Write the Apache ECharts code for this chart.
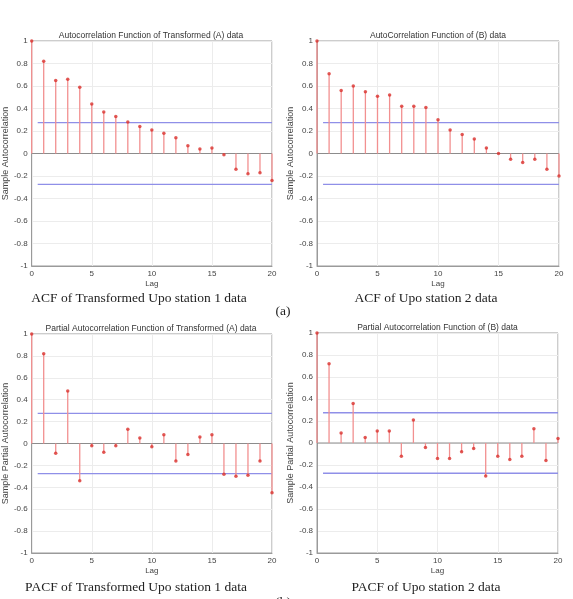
<!DOCTYPE html>
<html>
<head>
<meta charset="utf-8">
<script src="https://cdn.jsdelivr.net/npm/echarts@6/dist/echarts.min.js"></script>
<style>
  html, body { margin: 0; padding: 0; background: #fff; }
  #chart { width: 573px; height: 599px; }
</style>
</head>
<body>
<div id="chart"></div>
<script>
// lags 0..20
var lags = [0, 1, 2, 3, 4, 5, 6, 7, 8, 9, 10, 11, 12, 13, 14, 15, 16, 17, 18, 19, 20];

var acfA = [1, 0.82, 0.65, 0.66, 0.59, 0.44, 0.37, 0.33, 0.28, 0.24, 0.21, 0.18, 0.14, 0.07, 0.04, 0.05, -0.01, -0.14, -0.18, -0.17, -0.24];
var acfB = [1, 0.71, 0.56, 0.60, 0.55, 0.51, 0.52, 0.42, 0.42, 0.41, 0.30, 0.21, 0.17, 0.13, 0.05, 0.00, -0.05, -0.08, -0.05, -0.14, -0.20];
var pacfA = [1, 0.82, -0.09, 0.48, -0.34, -0.02, -0.08, -0.02, 0.13, 0.05, -0.03, 0.08, -0.16, -0.10, 0.06, 0.08, -0.28, -0.30, -0.29, -0.16, -0.45];
var pacfB = [1, 0.72, 0.09, 0.36, 0.05, 0.11, 0.11, -0.12, 0.21, -0.04, -0.14, -0.14, -0.08, -0.05, -0.30, -0.12, -0.15, -0.12, 0.13, -0.16, 0.04];

var bound = 0.275; // confidence bounds
var boundFrom = 0.5;

var panelTitles = [
  "Autocorrelation Function of Transformed (A) data",
  "AutoCorrelation Function of (B) data",
  "Partial Autocorrelation Function of Transformed (A) data",
  "Partial Autocorrelation Function of (B) data"
];
var yNames = ["Sample Autocorrelation", "Sample Autocorrelation", "Sample Partial Autocorrelation", "Sample Partial Autocorrelation"];
var captions = [
  "ACF of Transformed Upo station 1 data",
  "ACF of Upo station 2 data",
  "PACF of Transformed Upo station 1 data",
  "PACF of Upo station 2 data"
];
var panelData = [acfA, acfB, pacfA, pacfB];

// plot boxes [left, top, width, height]
var boxes = [
  [30, 41, 242, 225],
  [317, 41, 242, 225],
  [30, 334, 242, 219],
  [317, 333, 241, 220]
];

var sans = "'Liberation Sans', Arial, sans-serif";
var serif = "'Liberation Serif', 'DejaVu Serif', serif";

var chart = echarts.init(document.getElementById("chart"));

var grids = [], xAxes = [], yAxes = [], series = [], graphics = [];

boxes.forEach(function(b, i) {
  grids.push({
    left: b[0], top: b[1], width: b[2], height: b[3],
    show: true, borderColor: "#9a9a9a", borderWidth: 1, backgroundColor: "#fff"
  });
  xAxes.push({
    gridIndex: i, type: "value", min: 0, max: 20, interval: 5,
    name: "Lag", nameLocation: "middle", nameGap: 14,
    nameTextStyle: { fontSize: 8, color: "#444", fontFamily: sans },
    axisLine: { onZero: false, lineStyle: { color: "#9a9a9a" } },
    axisTick: { show: false },
    axisLabel: { fontSize: 8, color: "#444", margin: 4, fontFamily: sans },
    splitLine: { show: true, lineStyle: { color: "#ececec" } }
  });
  yAxes.push({
    gridIndex: i, type: "value", min: -1, max: 1, interval: 0.2,
    name: yNames[i], nameLocation: "middle", nameGap: 19,
    nameTextStyle: { fontSize: 9, color: "#444", fontFamily: sans },
    axisLine: { lineStyle: { color: "#9a9a9a" } },
    axisTick: { show: false },
    axisLabel: { fontSize: 8, color: "#444", margin: 4, fontFamily: sans },
    splitLine: { show: true, lineStyle: { color: "#ececec" } }
  });

  var pts = lags.map(function(l, k) { return [l, panelData[i][k]]; });

  // baseline at 0
  series.push({
    type: "line", xAxisIndex: i, yAxisIndex: i, silent: true,
    data: [[0, 0], [20, 0]], symbol: "none",
    lineStyle: { color: "#8c8c8c", width: 1 }, z: 2
  });
  // confidence bounds
  series.push({
    type: "line", xAxisIndex: i, yAxisIndex: i, silent: true,
    data: [[boundFrom, bound], [20, bound]], symbol: "none",
    lineStyle: { color: "#8f8fe8", width: 1.3 }, z: 3
  });
  series.push({
    type: "line", xAxisIndex: i, yAxisIndex: i, silent: true,
    data: [[boundFrom, -bound], [20, -bound]], symbol: "none",
    lineStyle: { color: "#8f8fe8", width: 1.3 }, z: 3
  });
  // stems
  series.push({
    type: "custom", xAxisIndex: i, yAxisIndex: i, data: pts, z: 4,
    renderItem: function(params, api) {
      var p0 = api.coord([api.value(0), 0]);
      var p1 = api.coord([api.value(0), api.value(1)]);
      return {
        type: "line",
        shape: { x1: p0[0], y1: p0[1], x2: p1[0], y2: p1[1] },
        style: { stroke: "#f29090", lineWidth: 1.3 }
      };
    }
  });
  // markers
  series.push({
    type: "scatter", xAxisIndex: i, yAxisIndex: i, data: pts, z: 5,
    symbol: "circle", symbolSize: 3.5,
    itemStyle: { color: "#d9302c" }
  });

  graphics.push({
    type: "text", x: b[0] + b[2] / 2, y: b[1] - 5,
    style: { text: panelTitles[i], align: "center", verticalAlign: "middle", font: "8.5px " + sans, fill: "#333" }
  });
});

var capPos = [[139, 298], [426, 298], [136, 587], [426, 587]];
captions.forEach(function(c, i) {
  graphics.push({
    type: "text", x: capPos[i][0], y: capPos[i][1],
    style: { text: c, align: "center", verticalAlign: "middle", font: "13.5px " + serif, fill: "#222" }
  });
});
graphics.push({
  type: "text", x: 283, y: 311,
  style: { text: "(a)", align: "center", verticalAlign: "middle", font: "13.5px " + serif, fill: "#222" }
});
graphics.push({
  type: "text", x: 283, y: 602,
  style: { text: "(b)", align: "center", verticalAlign: "middle", font: "13.5px " + serif, fill: "#222" }
});

chart.setOption({
  animation: false,
  grid: grids,
  xAxis: xAxes,
  yAxis: yAxes,
  series: series,
  graphic: graphics
});
</script>
</body>
</html>
